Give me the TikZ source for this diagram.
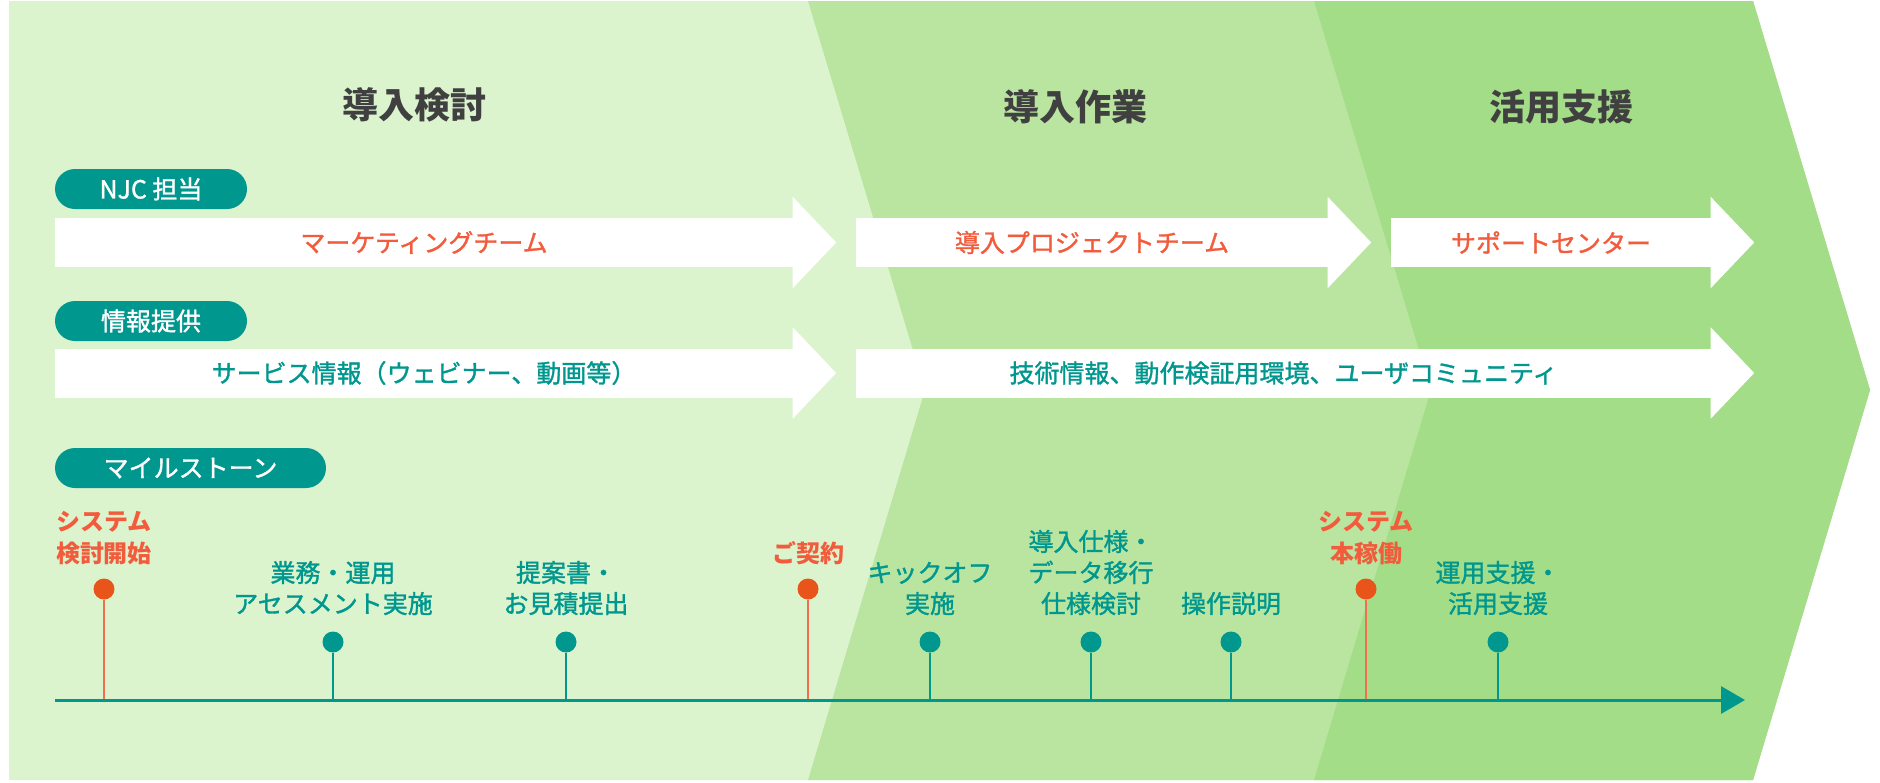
\documentclass[tikz,border=0pt]{standalone}
\usepackage{fontspec}
\setmainfont{Noto Sans CJK JP}
\newfontfamily\midfont[FakeBold=1.3]{Noto Sans CJK JP}
\usetikzlibrary{positioning, arrows.meta}

\definecolor{bandA}{RGB}{220,244,206}
\definecolor{bandB}{RGB}{186,229,161}
\definecolor{bandC}{RGB}{163,221,135}
\definecolor{njcteal}{RGB}{0,151,143}
\definecolor{njcred}{RGB}{242,92,60}
\definecolor{dotred}{RGB}{232,84,26}
\definecolor{stemred}{RGB}{242,112,80}
\definecolor{titlegray}{RGB}{64,64,64}

\tikzstyle{phase} = [inner sep=0pt, text=titlegray, font=\bfseries\fontsize{36}{40}\selectfont]
\tikzstyle{tag} = [rectangle, rounded corners=20pt, fill=njcteal, text=white, minimum height=40pt, inner sep=0pt, font=\midfont\fontsize{25}{28}\selectfont]
\tikzstyle{keydot} = [circle, inner sep=0pt, minimum size=21pt]
\tikzstyle{keyred} = [align=center, inner sep=0pt, text=njcred, font=\bfseries\fontsize{24}{32}\selectfont]
\tikzstyle{keyteal} = [align=center, inner sep=0pt, text=njcteal, font=\midfont\fontsize{25}{31}\selectfont]
\tikzstyle{redstem} = [draw=stemred, line width=2.5pt]
\tikzstyle{tealstem} = [draw=njcteal, line width=2.5pt]
\tikzstyle{timeline} = [draw=njcteal, line width=3pt, -{Triangle[length=24pt,width=27pt]}]
\tikzset{flow/.style={
        rectangle, fill=white, inner sep=0pt,
        minimum width=#1, minimum height=49pt,
        font=\midfont\fontsize{25}{28}\selectfont,
        append after command={
            \pgfextra
            \fill[white] ([xshift=-0.5pt,yshift=21pt]\tikzlastnode.north east) -- ([xshift=43pt]\tikzlastnode.east) -- ([xshift=-0.5pt,yshift=-21pt]\tikzlastnode.south east) -- cycle;
        \endpgfextra}
    }
}

\begin{document}
\begin{tikzpicture}[x=1pt, y=-1pt]
    \useasboundingbox (0,0) rectangle (1880,782);
    % phases
    \fill[bandA] (9,1) -- (1753,1) -- (1870,390) -- (1753,780) -- (9,780) -- cycle;
    \fill[bandB] (808,1) -- (1753,1) -- (1870,390) -- (1753,780) -- (808,780) -- (925,390) -- cycle;
    \fill[bandC] (1314,1) -- (1753,1) -- (1870,390) -- (1753,780) -- (1314,780) -- (1431,390) -- cycle;

    \node (ph1) [phase] at (414,105) {導入検討};
    \node (ph2) [phase] at (1075,107) {導入作業};
    \node (ph3) [phase] at (1561,107) {活用支援};

    % teams and information
    \node (njc) [tag, minimum width=192pt] at (151,189) {NJC 担当};
    \node (mkt) [flow=738pt, text=njcred] at (424,242.5) {マーケティングチーム};
    \node (proj) [flow=472pt, text=njcred] at (1092,242.5) {導入プロジェクトチーム};
    \node (sup) [flow=320pt, text=njcred] at (1551,242.5) {サポートセンター};

    \node (info) [tag, minimum width=192pt] at (151,321) {情報提供};
    \node (svc) [flow=738pt, text=njcteal] at (424,373) {サービス情報（ウェビナー、動画等）};
    \node (tech) [flow=855pt, text=njcteal] at (1283.5,373) {技術情報、動作検証用環境、ユーザコミュニティ};

    % milestones
    \node (mile) [tag, minimum width=271pt] at (190.5,468) {マイルストーン};
    \coordinate (tlstart) at (55,700);
    \coordinate (tlend) at (1745,700);

    \node (start) [keydot, fill=dotred] at (104,589) {};
    \node (assess) [keydot, fill=njcteal] at (333,642) {};
    \node (offer) [keydot, fill=njcteal] at (566,642) {};
    \node (deal) [keydot, fill=dotred] at (808,589) {};
    \node (kickoff) [keydot, fill=njcteal] at (930,642) {};
    \node (spec) [keydot, fill=njcteal] at (1091,642) {};
    \node (train) [keydot, fill=njcteal] at (1231,642) {};
    \node (golive) [keydot, fill=dotred] at (1366,589) {};
    \node (care) [keydot, fill=njcteal] at (1498,642) {};

    \node (startlbl) [keyred, above=13pt of start] {システム\\検討開始};
    \node (assesslbl) [keyteal, above=16pt of assess] {業務・運用\\アセスメント実施};
    \node (offerlbl) [keyteal, above=16pt of offer] {提案書・\\お見積提出};
    \node (deallbl) [keyred, above=13pt of deal] {ご契約};
    \node (kickofflbl) [keyteal, above=16pt of kickoff] {キックオフ\\実施};
    \node (speclbl) [keyteal, above=16pt of spec] {導入仕様・\\データ移行\\仕様検討};
    \node (trainlbl) [keyteal, above=16pt of train] {操作説明};
    \node (golivelbl) [keyred, above=13pt of golive] {システム\\本稼働};
    \node (carelbl) [keyteal, above=16pt of care] {運用支援・\\活用支援};

    \draw[redstem] (start) -- (start |- tlstart);
    \draw[tealstem] (assess) -- (assess |- tlstart);
    \draw[tealstem] (offer) -- (offer |- tlstart);
    \draw[redstem] (deal) -- (deal |- tlstart);
    \draw[tealstem] (kickoff) -- (kickoff |- tlstart);
    \draw[tealstem] (spec) -- (spec |- tlstart);
    \draw[tealstem] (train) -- (train |- tlstart);
    \draw[redstem] (golive) -- (golive |- tlstart);
    \draw[tealstem] (care) -- (care |- tlstart);

    \draw[timeline] (tlstart) -- (tlend);
\end{tikzpicture}
\end{document}
